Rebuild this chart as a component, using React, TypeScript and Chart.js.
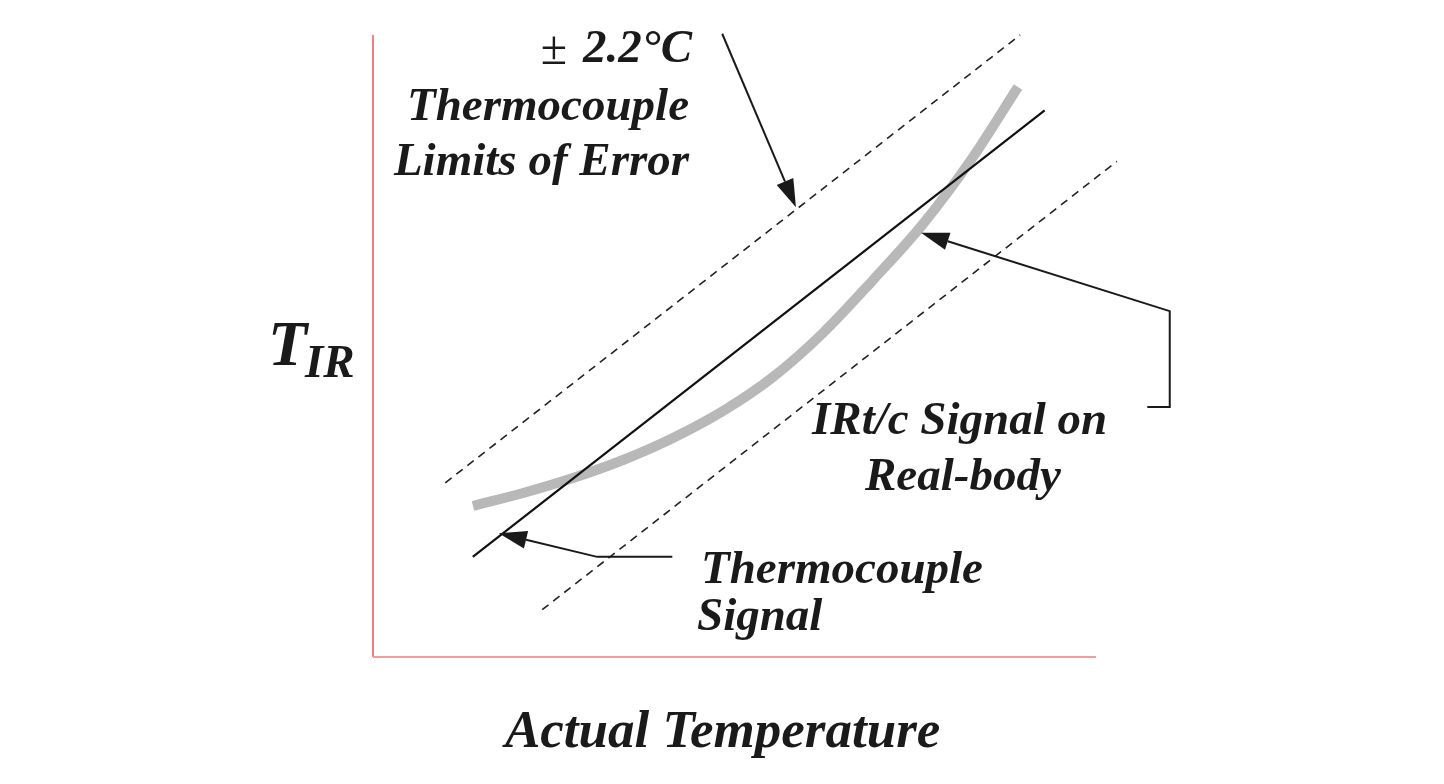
import React, { useEffect, useRef } from "react";
import { Chart, registerables } from "chart.js";

Chart.register(...registerables);

// Axis ranges (arbitrary units: actual temperature vs. indicated T_IR)
const X_MIN = 0;
const X_MAX = 100;
const Y_MIN = 0;
const Y_MAX = 100;

// Thermocouple signal (ideal straight line)
const tcX = [13.8, 92.9];
const tcY = [16.1, 87.9];

// ± 2.2 °C limits of error
const upperX = [10.0, 89.5];
const upperY = [28.0, 100.0];
const lowerX = [23.4, 102.9];
const lowerY = [7.6, 79.7];

// IRt/c signal on real body (curved)
const curveX = [13.83, 20.75, 27.66, 34.58, 41.49, 48.41, 55.33, 62.24, 69.16, 76.07, 82.99, 89.21];
const curveY = [24.28, 26.37, 28.78, 31.67, 35.21, 39.55, 45.02, 52.09, 60.61, 69.61, 80.39, 91.64];

// Callout arrows (data units), last point is the arrow tip
const arrowLimits = [
  [48.3, 100.2],
  [58.5, 72.3],
];
const arrowIR = [
  [107.1, 40.2],
  [110.2, 40.2],
  [110.2, 55.6],
  [75.8, 68.2],
];
const arrowTC = [
  [41.4, 16.1],
  [31.0, 16.1],
  [17.4, 19.9],
];

const zip = (xs: number[], ys: number[]) => xs.map((x, i) => ({ x, y: ys[i] }));

const BI = (s: number) => `italic bold ${s}px "Liberation Serif", "Times New Roman", serif`;

const decorPlugin = {
  id: "decor",
  beforeDatasetsDraw(chart: any) {
    const { ctx, chartArea } = chart;
    ctx.save();
    // y axis
    ctx.strokeStyle = "#f0505a";
    ctx.lineWidth = 1.5;
    ctx.beginPath();
    ctx.moveTo(chartArea.left, chartArea.top);
    ctx.lineTo(chartArea.left, chartArea.bottom);
    ctx.stroke();
    // x axis
    ctx.strokeStyle = "#f39aa0";
    ctx.lineWidth = 2;
    ctx.beginPath();
    ctx.moveTo(chartArea.left, chartArea.bottom);
    ctx.lineTo(chartArea.right, chartArea.bottom);
    ctx.stroke();
    ctx.restore();
  },
  afterDatasetsDraw(chart: any) {
    const { ctx } = chart;
    const xs = chart.scales.x;
    const ys = chart.scales.y;
    const px = (p: number[]) => [xs.getPixelForValue(p[0]), ys.getPixelForValue(p[1])];

    const drawArrow = (pts: number[][]) => {
      const P = pts.map(px);
      ctx.save();
      ctx.strokeStyle = "#1a1a1a";
      ctx.fillStyle = "#1a1a1a";
      ctx.lineWidth = 2;
      const n = P.length;
      const [tx, ty] = P[n - 1];
      const [sx, sy] = P[n - 2];
      const ang = Math.atan2(ty - sy, tx - sx);
      const L = 28;
      const W = 9;
      const bx = tx - L * Math.cos(ang);
      const by = ty - L * Math.sin(ang);
      ctx.beginPath();
      ctx.moveTo(P[0][0], P[0][1]);
      for (let i = 1; i < n - 1; i++) ctx.lineTo(P[i][0], P[i][1]);
      ctx.lineTo(bx, by);
      ctx.stroke();
      ctx.beginPath();
      ctx.moveTo(tx, ty);
      ctx.lineTo(bx + W * Math.sin(ang), by - W * Math.cos(ang));
      ctx.lineTo(bx - W * Math.sin(ang), by + W * Math.cos(ang));
      ctx.closePath();
      ctx.fill();
      ctx.restore();
    };
    drawArrow(arrowLimits);
    drawArrow(arrowIR);
    drawArrow(arrowTC);

    ctx.save();
    ctx.fillStyle = "#1a1a1a";
    ctx.textBaseline = "alphabetic";
    // ± 2.2°C
    ctx.textAlign = "right";
    ctx.font = BI(47);
    ctx.fillText("2.2°C", 692, 62);
    const w = ctx.measureText("2.2°C").width;
    ctx.font = `48px "Liberation Serif", "Times New Roman", serif`;
    ctx.fillText("± ", 692 - w - 4, 64);
    ctx.font = BI(47);
    ctx.fillText("Thermocouple", 689, 120);
    ctx.fillText("Limits of Error", 689, 175);

    ctx.textAlign = "left";
    ctx.font = BI(64);
    ctx.fillText("T", 268, 365);
    ctx.font = BI(47);
    ctx.fillText("IR", 305, 377);

    ctx.fillText("IRt/c Signal on", 812, 434);
    ctx.fillText("Real-body", 865, 490);
    ctx.fillText("Thermocouple", 701, 583);
    ctx.fillText("Signal", 697, 630);

    ctx.font = BI(53);
    ctx.fillText("Actual Temperature", 505, 747);
    ctx.restore();
  },
};

export default function App() {
  const ref = useRef<HTMLCanvasElement | null>(null);

  useEffect(() => {
    if (!ref.current) return;
    const chart = new Chart(ref.current, {
      type: "line",
      data: {
        datasets: [
          {
            label: "Thermocouple Signal",
            data: zip(tcX, tcY),
            borderColor: "#111111",
            borderWidth: 2.2,
            pointRadius: 0,
            clip: false as any,
          },
          {
            label: "Upper limit",
            data: zip(upperX, upperY),
            borderColor: "#222222",
            borderWidth: 1.6,
            borderDash: [8, 6],
            pointRadius: 0,
            clip: false as any,
          },
          {
            label: "Lower limit",
            data: zip(lowerX, lowerY),
            borderColor: "#222222",
            borderWidth: 1.6,
            borderDash: [8, 6],
            pointRadius: 0,
            clip: false as any,
          },
          {
            label: "IRt/c Signal on Real-body",
            data: zip(curveX, curveY),
            borderColor: "#b8b8b8",
            borderWidth: 10,
            pointRadius: 0,
            cubicInterpolationMode: "monotone",
            borderCapStyle: "butt",
            clip: false as any,
          },
        ],
      },
      options: {
        animation: false,
        responsive: true,
        maintainAspectRatio: false,
        layout: { padding: { left: 373, right: 348, top: 35, bottom: 127 } },
        plugins: { legend: { display: false }, tooltip: { enabled: false } },
        scales: {
          x: { type: "linear", min: X_MIN, max: X_MAX, display: false },
          y: { type: "linear", min: Y_MIN, max: Y_MAX, display: false },
        },
      },
      plugins: [decorPlugin],
    });
    return () => chart.destroy();
  }, []);

  return (
    <div style={{ position: "fixed", left: 0, top: 0, width: 1444, height: 784, background: "#ffffff" }}>
      <canvas ref={ref} />
    </div>
  );
}
